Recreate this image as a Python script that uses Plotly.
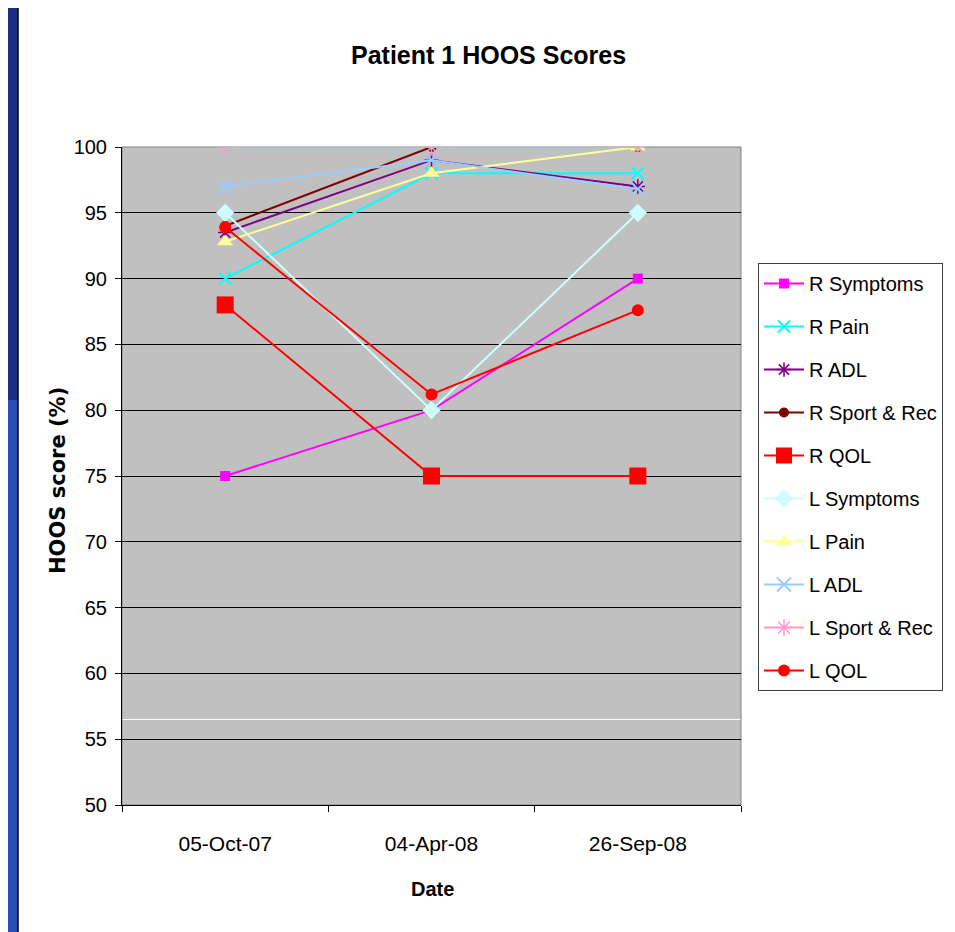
import plotly.graph_objects as go

dates = ["05-Oct-07", "04-Apr-08", "26-Sep-08"]

r_symptoms = [75, 80, 90]
r_pain = [90, 98, 98]
r_adl = [93.5, 99, 97]
r_sport = [94, 100, 100]
r_qol = [88, 75, 75]
l_symptoms = [95, 80, 95]
l_pain = [92.8, 98, 100]
l_adl = [97, 99, 96.8]
l_sport = [100, 100, 100]
l_qol = [93.9, 81.2, 87.6]

series_names = ["R Symptoms", "R Pain", "R ADL", "R Sport & Rec", "R QOL",
                "L Symptoms", "L Pain", "L ADL", "L Sport & Rec", "L QOL"]
series_values = [r_symptoms, r_pain, r_adl, r_sport, r_qol,
                 l_symptoms, l_pain, l_adl, l_sport, l_qol]
y_ticks = [50, 55, 60, 65, 70, 75, 80, 85, 90, 95, 100]

styles = [
    dict(color="#ff00ff", symbol="square", size=10, lw=0),
    dict(color="#00ffff", symbol="x-thin-open", size=12, lw=2),
    dict(color="#800080", symbol="asterisk-open", size=12, lw=1.5),
    dict(color="#800000", symbol="circle", size=10, lw=0),
    dict(color="#ff0000", symbol="square", size=17, lw=0),
    dict(color="#ccffff", symbol="diamond", size=14, lw=0),
    dict(color="#ffff99", symbol="triangle-up", size=14, lw=0),
    dict(color="#99ccff", symbol="x-thin-open", size=14, lw=2),
    dict(color="#ff99cc", symbol="asterisk-open", size=14, lw=1.5),
    dict(color="#ff0000", symbol="circle", size=12, lw=0),
]

FONT = "Liberation Sans, Arial, sans-serif"

fig = go.Figure()
for name, vals, st in zip(series_names, series_values, styles):
    fig.add_trace(go.Scatter(
        x=dates, y=vals, name=name, mode="lines+markers",
        legendgroup=name,
        line=dict(color=st["color"], width=2),
        marker=dict(color=st["color"], symbol=st["symbol"], size=st["size"],
                    line=dict(color=st["color"], width=st["lw"])),
    ))

# page has an 8px body margin; work in reference pixels and shift
OFF = 8
W, H = 955 - OFF, 932 - OFF
L, R, T, B = 122 - OFF, 955 - 741, 147 - OFF, 932 - 805
pw, ph = W - L - R, H - T - B

def px_x(p):
    return (p - OFF - L) / pw

def px_y(p):
    return (H - B - (p - OFF)) / ph

shapes = [
    # slide background strip on the left
    dict(type="rect", xref="paper", yref="paper", x0=px_x(0), x1=px_x(18), y0=px_y(400), y1=px_y(0),
         fillcolor="#1a2f82", line=dict(width=0), layer="below"),
    dict(type="rect", xref="paper", yref="paper", x0=px_x(0), x1=px_x(18), y0=px_y(940), y1=px_y(400),
         fillcolor="#2a4cb8", line=dict(width=0), layer="below"),
    dict(type="line", xref="paper", yref="paper", x0=px_x(18), x1=px_x(18), y0=px_y(940), y1=px_y(7),
         line=dict(color="#000000", width=1.5), layer="below"),
    # stray white line in plot
    dict(type="line", xref="paper", yref="y", x0=0, x1=1, y0=56.5, y1=56.5,
         line=dict(color="white", width=1), layer="below"),
    # plot border
    dict(type="rect", xref="paper", yref="paper", x0=0, x1=1, y0=0, y1=1,
         line=dict(color="#808080", width=1), layer="below"),
]

fig.update_layout(
    width=W, height=H,
    margin=dict(l=L, r=R, t=T, b=B),
    paper_bgcolor="white",
    plot_bgcolor="#c0c0c0",
    showlegend=True,
    legend=dict(
        x=px_x(758), y=px_y(263), xanchor="left", yanchor="top",
        bgcolor="white", bordercolor="#404040", borderwidth=1,
        font=dict(family=FONT, size=20, color="black"),
        tracegroupgap=14, itemwidth=40,
    ),
    xaxis=dict(
        type="category", range=[-0.5, 2.5], tickson="boundaries",
        ticks="outside", ticklen=6, tickcolor="black",
        showline=True, linecolor="black", linewidth=1,
        showgrid=False, zeroline=False,
        tickfont=dict(family=FONT, size=21, color="black"),
        ticklabelstandoff=20,
    ),
    yaxis=dict(
        range=[50, 100], tickvals=y_ticks,
        ticks="outside", ticklen=6, tickcolor="black",
        showline=True, linecolor="black", linewidth=1,
        showgrid=True, gridcolor="black", gridwidth=1,
        zeroline=False,
        tickfont=dict(family=FONT, size=20, color="black"),
        ticklabelstandoff=4,
    ),
    shapes=shapes,
    annotations=[
        dict(text="<b>Patient 1 HOOS Scores</b>", xref="paper", yref="paper",
             x=px_x(488), y=px_y(55), xanchor="center", yanchor="middle", showarrow=False,
             font=dict(family=FONT, size=25, color="black")),
        dict(text="<b>HOOS score (%)</b>", xref="paper", yref="paper",
             x=px_x(58), y=px_y(481), xanchor="center", yanchor="middle", showarrow=False,
             textangle=-90, font=dict(family="DejaVu Sans, sans-serif", size=21, color="black")),
        dict(text="<b>Date</b>", xref="paper", yref="paper",
             x=px_x(432), y=px_y(889), xanchor="center", yanchor="middle", showarrow=False,
             font=dict(family=FONT, size=20, color="black")),
    ],
)

fig.write_html("out.html")
